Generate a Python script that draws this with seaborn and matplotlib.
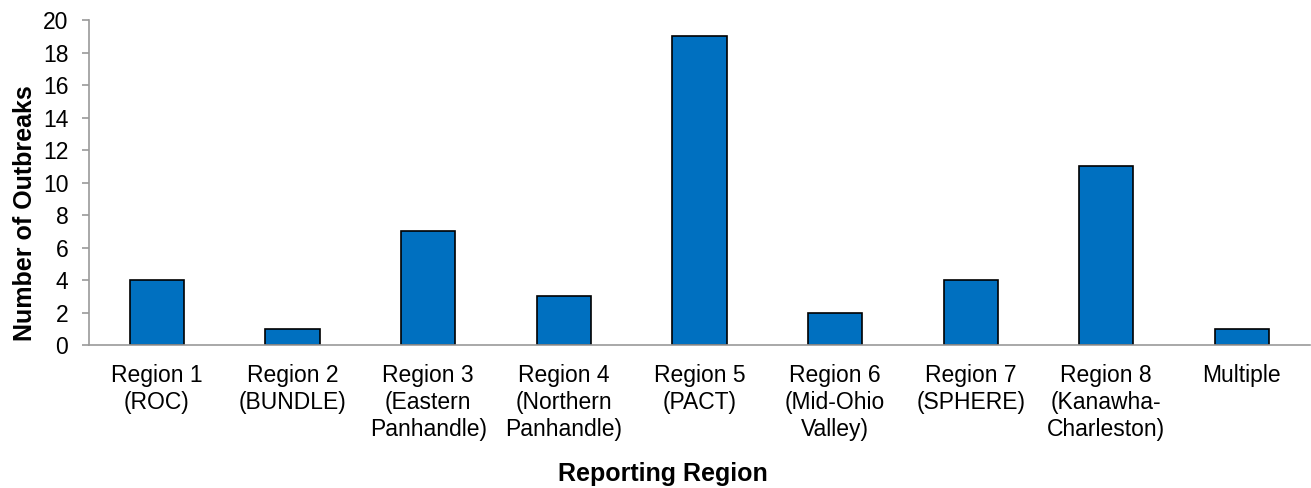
import matplotlib
matplotlib.use("Agg")
import matplotlib.pyplot as plt
import seaborn as sns
import numpy as np
import pandas as pd
from matplotlib.ticker import FixedLocator

regions = [
    "Region 1\n(ROC)",
    "Region 2\n(BUNDLE)",
    "Region 3\n(Eastern\nPanhandle)",
    "Region 4\n(Northern\nPanhandle)",
    "Region 5\n(PACT)",
    "Region 6\n(Mid-Ohio\nValley)",
    "Region 7\n(SPHERE)",
    "Region 8\n(Kanawha-\nCharleston)",
    "Multiple",
]
outbreaks = [4, 1, 7, 3, 19, 2, 4, 11, 1]
y_ticks = list(range(0, 21, 2))

sns.set_theme(style="white")
plt.rcParams["font.family"] = ["Liberation Sans", "DejaVu Sans"]
plt.rcParams["text.color"] = "black"
plt.rcParams["axes.labelcolor"] = "black"

df = pd.DataFrame({"region": regions, "outbreaks": outbreaks})

fig = plt.figure(figsize=(13.11, 4.88), dpi=100)
ax = fig.add_axes([0.068, 0.293, 0.931, 0.666])

sns.barplot(data=df, x="region", y="outbreaks", color="#0070C0",
            edgecolor="black", linewidth=1.2, width=0.4, saturation=1, ax=ax)

n = len(regions)
ax.set_xlim(-0.5, n - 0.5)
ax.set_ylim(0, 20)
ax.set_yticks(y_ticks)

axis_gray = "#9A9A9A"
for side in ["top", "right"]:
    ax.spines[side].set_visible(False)
for side in ["left", "bottom"]:
    ax.spines[side].set_color(axis_gray)
    ax.spines[side].set_linewidth(1.2)

# category separators as tick marks on the x axis
ax.xaxis.set_minor_locator(FixedLocator(np.arange(-0.5, n, 1.0)))
ax.tick_params(axis="x", which="major", length=0, labelsize=16.5, pad=14,
               labelcolor="black")
ax.tick_params(axis="x", which="minor", length=5, width=1.2, color=axis_gray,
               direction="out")
ax.tick_params(axis="y", which="major", length=5, width=1.2, color=axis_gray,
               direction="out", labelsize=16.5, left=True, pad=10,
               labelcolor="black")

ax.set_xlabel("Reporting Region", fontsize=18, fontweight="bold")
ax.set_ylabel("Number of Outbreaks", fontsize=18, fontweight="bold")
ax.xaxis.set_label_coords(0.470, -0.36)
ax.yaxis.set_label_coords(-0.0426, 0.406)

fig.savefig("out.png", dpi=100)
